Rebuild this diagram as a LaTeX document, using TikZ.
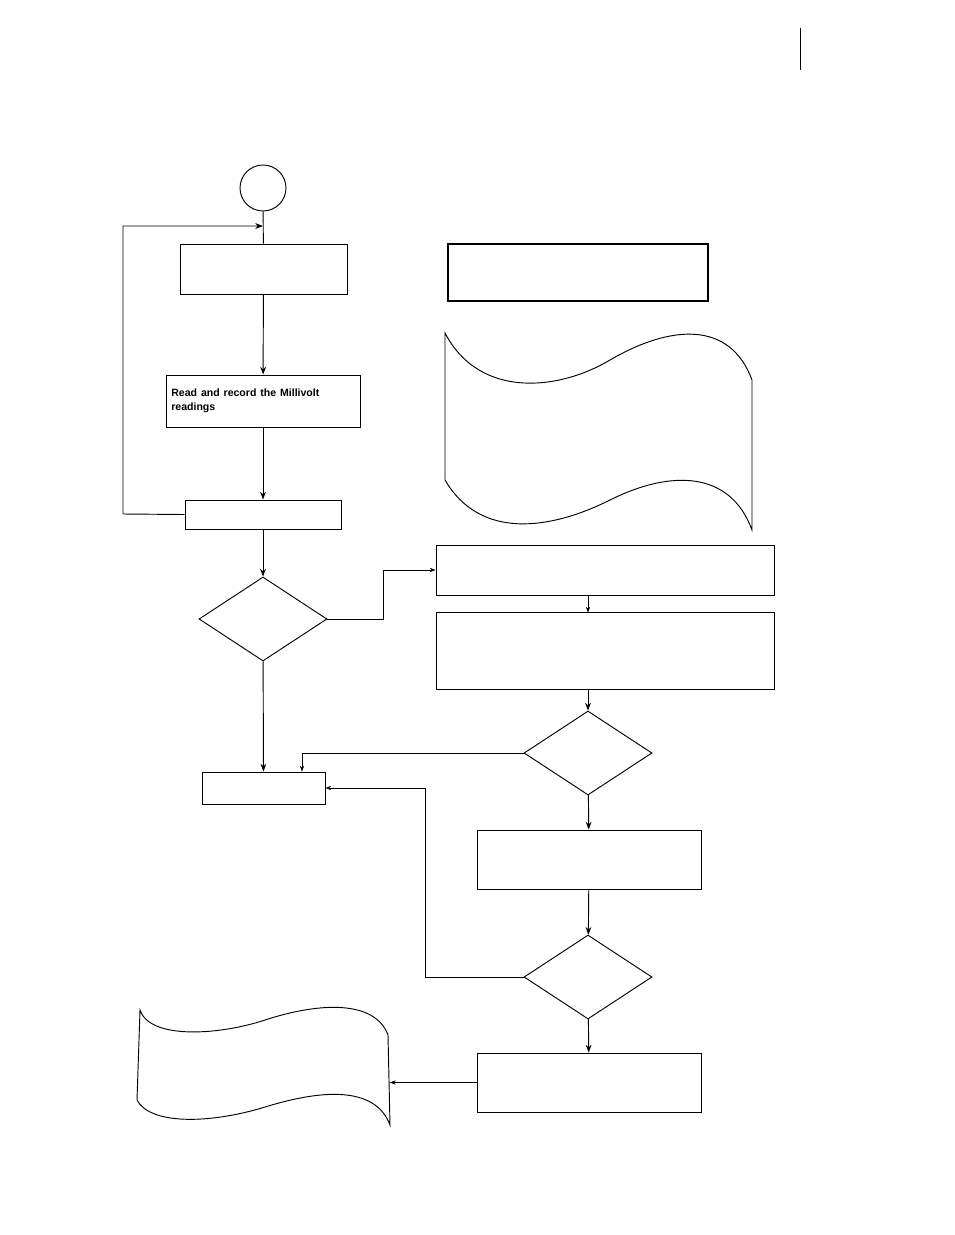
\documentclass[tikz,border=0pt]{standalone}
\usepackage{fontspec}
\setsansfont{Liberation Sans}
\usetikzlibrary{arrows.meta,positioning,shapes.geometric}
\tikzset{
  >=Stealth[],
  box/.style={draw, thick, rectangle, inner sep=0pt},
  dia/.style={draw, thick, diamond, inner sep=0pt, minimum width=3.84cm, minimum height=2.52cm},
  line/.style={thick},
}
\begin{document}
\begin{tikzpicture}[x=0.03cm,y=-0.03cm]
  \useasboundingbox (0,0) rectangle (954,1235);
  \draw (800,28) -- (800,70);

  \node [draw, thick, circle, minimum size=1.38cm] (start) at (263,188) {};
  \node [box, minimum width=5.01cm, minimum height=1.5cm] (init) at (263.5,269) {};
  \node [box, minimum width=5.82cm, minimum height=1.56cm, align=left, text width=5.5cm]
    (read) at (263,401) {\sffamily\bfseries\small Read and record the Millivolt\\readings};
  \node [box, minimum width=4.68cm, minimum height=0.87cm] (next) at (263,514.5) {};
  \node [box, very thick, minimum width=7.8cm, minimum height=1.71cm] (note) at (578,272.5) {};
  \node [dia] (testa) at (263,619) {};
  \node [box, minimum width=10.14cm, minimum height=1.5cm] (calca) at (605,570) {};
  \node [box, minimum width=10.14cm, minimum height=2.31cm] (calcb) at (605,650.5) {};
  \node [dia] (testb) at (588,753) {};
  \node [box, minimum width=3.69cm, minimum height=0.96cm] (stop) at (263.5,788) {};
  \node [box, minimum width=6.72cm, minimum height=1.77cm] (adjust) at (589,859.5) {};
  \node [dia] (testc) at (588,977) {};
  \node [box, minimum width=6.72cm, minimum height=1.77cm] (report) at (589,1082.5) {};

  % documents
  \draw [thick] (445,333) .. controls (480,400) and (560,390) .. (610,360)
    .. controls (670,325) and (730,320) .. (752,380) -- (752,530)
    .. controls (730,470) and (670,470) .. (610,500)
    .. controls (550,530) and (480,540) .. (445,480) -- cycle;
  \draw [thick] (140,1010) .. controls (150,1040) and (220,1035) .. (265,1020)
    .. controls (320,1002) and (375,1000) .. (388,1035) -- (390,1125)
    .. controls (375,1085) and (320,1090) .. (265,1107)
    .. controls (210,1124) and (150,1125) .. (137,1100) -- cycle;

  % connectors
  \coordinate (loopa) at (123,514);
  \coordinate (loopb) at (123,226);
  \coordinate (loopc) at (263,226);
  \draw [line] (start) -- (init);
  \draw [line,->] (next.west) -- (loopa) -- (loopb) -- (loopc);
  \draw [line,->] (init) -- (read);
  \draw [line,->] (read) -- (next);
  \draw [line,->] (next) -- (testa);
  \coordinate (sidea) at (383,619);
  \draw [->] (testa.east) -- (sidea) |- (calca.west);
  \draw [->] (calca.south -| calcb.north) ++(-17,0) -- ++(0,17);
  \draw [line,->] (calcb.south -| testb) -- (testb);
  \coordinate (sideb) at (302,753);
  \draw [->] (testb.west) -- (sideb) -- (sideb |- stop.north);
  \draw [line,->] (testa) -- (stop);
  \draw [line,->] (testb) -- (adjust);
  \draw [line,->] (adjust) -- (testc);
  \coordinate (sidec) at (425,977);
  \draw [->] (testc.west) -- (sidec) |- (stop.east);
  \draw [line,->] (testc) -- (report);
  \draw [->] (report.west) -- (390,1082.5);
\end{tikzpicture}
\end{document}
